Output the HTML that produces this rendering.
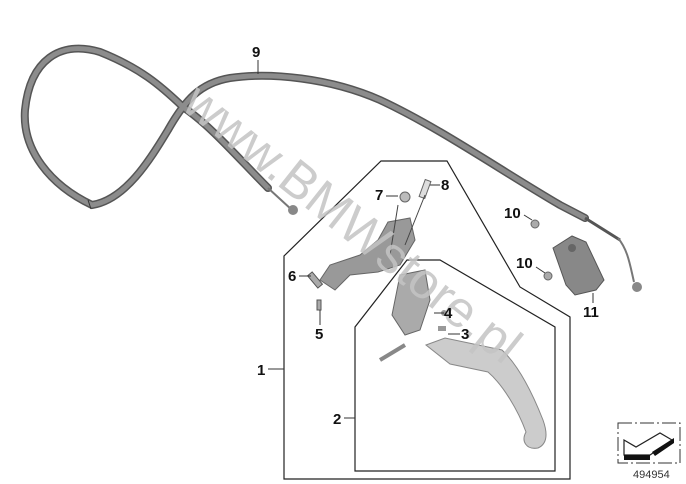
<!DOCTYPE html>
<html><head><meta charset="utf-8"><style>
html,body{margin:0;padding:0;background:#fff;}
svg{display:block}
text{font-family:"Liberation Sans",sans-serif;}
.l{font-weight:bold;font-size:15px;fill:#111}
</style></head><body>
<svg width="686" height="484" viewBox="0 0 686 484">
<path d="M268,188 C240,160 210,125 183,107 C160,85 140,68 100,52 C60,40 30,60 25,110 C22,150 50,185 92,205 C125,200 150,160 168,130 C185,100 200,83 230,78 C270,72 330,78 380,100 C440,128 500,170 560,205 L585,218" fill="none" stroke="#555" stroke-width="8" stroke-linecap="round"/>
<path d="M268,188 C240,160 210,125 183,107 C160,85 140,68 100,52 C60,40 30,60 25,110 C22,150 50,185 92,205 C125,200 150,160 168,130 C185,100 200,83 230,78 C270,72 330,78 380,100 C440,128 500,170 560,205 L585,218" fill="none" stroke="#8c8c8c" stroke-width="5" stroke-linecap="round"/>
<line x1="88" y1="200" x2="91" y2="209" stroke="#333" stroke-width="1"/>
<line x1="268" y1="188" x2="292" y2="210" stroke="#777" stroke-width="2"/>
<circle cx="293" cy="210" r="5" fill="#888"/>
<line x1="585" y1="218" x2="620" y2="240" stroke="#555" stroke-width="3"/>
<path d="M618,238 C628,250 630,265 634,282" fill="none" stroke="#777" stroke-width="2"/>
<circle cx="637" cy="287" r="5" fill="#888"/>
<polygon points="284,479 284,256 381,161 447,161 520,287 570,317 570,479" fill="none" stroke="#222" stroke-width="1.2"/>
<polygon points="355,471 355,327 407,260 440,260 555,327 555,471" fill="none" stroke="#222" stroke-width="1.2"/>
<path d="M553,248 L572,236 L586,242 L604,280 L596,290 L575,295 L566,285 Z" fill="#888" stroke="#555"/>
<circle cx="572" cy="248" r="4" fill="#666"/>
<circle cx="535" cy="224" r="4" fill="#aaa" stroke="#666"/>
<circle cx="548" cy="276" r="4" fill="#aaa" stroke="#666"/>
<path d="M388,222 L410,218 L415,240 L400,265 L378,272 L350,275 L335,290 L320,280 L330,265 L360,255 L378,240 Z" fill="#999" stroke="#666"/>
<circle cx="405" cy="197" r="5" fill="#bbb" stroke="#666"/>
<rect x="422" y="180" width="6" height="18" fill="#ddd" stroke="#666" transform="rotate(20 425 189)"/>
<line x1="398" y1="205" x2="390" y2="255" stroke="#444"/>
<line x1="425" y1="195" x2="405" y2="245" stroke="#444"/>
<rect x="312" y="272" width="6" height="16" fill="#aaa" stroke="#555" transform="rotate(-40 315 280)"/>
<rect x="317" y="300" width="4" height="10" fill="#aaa" stroke="#555"/>
<path d="M400,275 L425,270 L430,300 L420,330 L405,335 L392,315 Z" fill="#aaa" stroke="#666"/>
<line x1="380" y1="360" x2="405" y2="345" stroke="#888" stroke-width="4"/>
<path d="M426,345 L445,338 L502,350 C518,365 532,392 543,420 C548,434 547,444 538,448 C526,450 521,441 526,432 C518,410 503,385 488,372 L450,364 Z" fill="#ccc" stroke="#888"/>
<circle cx="444" cy="313" r="3" fill="#999"/>
<rect x="438" y="326" width="8" height="5" fill="#999"/>
<text x="0" y="0" transform="translate(180,108) rotate(38.5)" font-size="51" fill="#c4c4c4" opacity="0.85">www.BMWstore.pl</text>
<text class="l" x="252" y="57">9</text><line x1="258" y1="60" x2="258" y2="74" stroke="#333"/>
<text class="l" x="375" y="200">7</text><line x1="386" y1="196" x2="398" y2="196" stroke="#333"/>
<text class="l" x="441" y="190">8</text><line x1="430" y1="185" x2="440" y2="185" stroke="#333"/>
<text class="l" x="288" y="281">6</text><line x1="299" y1="276" x2="311" y2="276" stroke="#333"/>
<text class="l" x="315" y="339">5</text><line x1="320" y1="310" x2="320" y2="325" stroke="#333"/>
<text class="l" x="444" y="318">4</text><line x1="434" y1="313" x2="444" y2="313" stroke="#333"/>
<text class="l" x="461" y="339">3</text><line x1="448" y1="334" x2="460" y2="334" stroke="#333"/>
<text class="l" x="257" y="375">1</text><line x1="268" y1="369" x2="284" y2="369" stroke="#333"/>
<text class="l" x="333" y="424">2</text><line x1="344" y1="418" x2="355" y2="418" stroke="#333"/>
<text class="l" x="504" y="218">10</text><line x1="524" y1="215" x2="532" y2="220" stroke="#333"/>
<text class="l" x="516" y="268">10</text><line x1="536" y1="267" x2="545" y2="273" stroke="#333"/>
<text class="l" x="583" y="317">11</text><line x1="593" y1="293" x2="593" y2="303" stroke="#333"/>
<rect x="618" y="423" width="62" height="40" fill="none" stroke="#333" stroke-dasharray="14,3,2,3"/>
<path d="M624,440 L636,447 L660,433 L672,440 L650,455 L624,455 Z" fill="#fff" stroke="#222" stroke-width="1.2"/>
<path d="M624,455 L650,455 L650,460 L624,460 Z" fill="#111"/>
<path d="M652,452 L674,438 L674,443 L655,456 Z" fill="#111"/>
<text x="633" y="478" font-size="11" fill="#333">494954</text>
</svg>
</body></html>
